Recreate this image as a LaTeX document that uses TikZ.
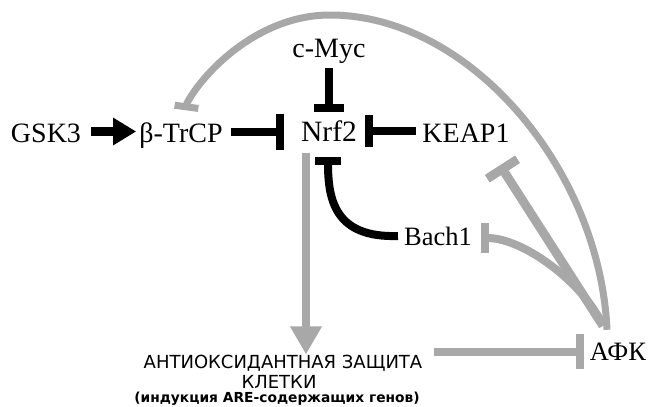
\documentclass[tikz,border=0pt]{standalone}
\usepackage{fontspec}
\setmainfont{Liberation Serif}
\newfontfamily\sansf{DejaVu Sans}
\usetikzlibrary{arrows.meta,calc}
\definecolor{lgray}{HTML}{A8A8A8}
\tikzset{
  lbl/.style={anchor=base,inner sep=0pt,font=\fontsize{28}{28}\selectfont,text height=22pt,text depth=0pt},
  sml/.style={lbl,font=\fontsize{26.5}{26.5}\selectfont},
  sanslbl/.style={anchor=base,inner sep=0pt,font=\sansf\fontsize{18}{20}\selectfont},
  notelbl/.style={anchor=base,inner sep=0pt,font=\sansf\bfseries\fontsize{13.8}{14}\selectfont},
  blk/.style={draw=black,line width=8pt},
  gry/.style={draw=lgray,line width=8pt},
}
\begin{document}
\begin{tikzpicture}[x=1pt,y=-1pt]
\useasboundingbox (0,0) rectangle (649,407);
% nodes
\node[lbl] (gsk) at (46,142.5) {GSK3};
\node[lbl] (btrcp) at (181,142.5) {β-TrCP};
\node[lbl,font=\fontsize{29.5}{29.5}\selectfont] (nrf) at (329,141) {Nrf2};
\node[lbl] (cmyc) at (329,57) {c-Myc};
\node[lbl] (keap) at (466,142) {KEAP1};
\node[sml] (bach) at (438,245) {Bach1};
\node[sml] (afk) at (618,360) {АФК};
\node[sanslbl] (aox1) at (283,368) {АНТИОКСИДАНТНАЯ ЗАЩИТА};
\node[sanslbl] (aox2) at (279,388) {КЛЕТКИ};
\node[notelbl] (aox3) at (277,402) {(индукция ARE-содержащих генов)};
% black connectors
\draw[blk,line width=9pt,-{Triangle[length=23pt,width=26pt]},shorten <=10pt,shorten >=3pt] (gsk.east) -- (btrcp.west);
\draw[blk,-{Bar[width=36pt]},shorten <=8pt,shorten >=17pt] (btrcp.east) -- (btrcp.east -| nrf.west);
\draw[blk,-{Bar[width=30pt]},shorten <=11pt,shorten >=7pt] (cmyc.south) -- (nrf.north);
\draw[blk,-{Bar[width=32pt]},shorten <=6pt,shorten >=8pt] (keap.west) -- (keap.west -| nrf.east);
\draw[blk,-{Bar[width=26pt]}] ($(bach.west)+(-6,2)$) .. controls (335,238) and (328,200) .. ($(nrf.south)+(-1,16)$);
% gray connectors
\draw[gry,-{Triangle[length=28pt,width=30pt]}] ($(nrf.south)+(-23,12)$) coordinate (p) -- (p |- aox1.north);
\draw[gry,-{Bar[width=35pt]},shorten >=6pt] ($(aox1.east)+(12,-11)$) coordinate (q) -- (q -| afk.west);
\draw[gry,-{Bar[width=30pt]}] ($(afk.north)+(-15,-12)$) .. controls (585,285) and (525,238) .. ($(bach.east)+(9,4)$);
\draw[gry,line width=9pt,-{Bar[width=36pt]}] ($(afk.north)+(-15,-12)$) -- ($(keap.south)+(34,23)$);
\draw[gry,line width=7pt,-{Bar[width=24pt]}] ($(afk.north)+(-11,-8)$) .. controls (600,170) and (470,15) .. (330,15) .. controls (260,15) and (205,70) .. (187,103) -- ($(btrcp.north)+(5,-10)$);
\end{tikzpicture}
\end{document}
